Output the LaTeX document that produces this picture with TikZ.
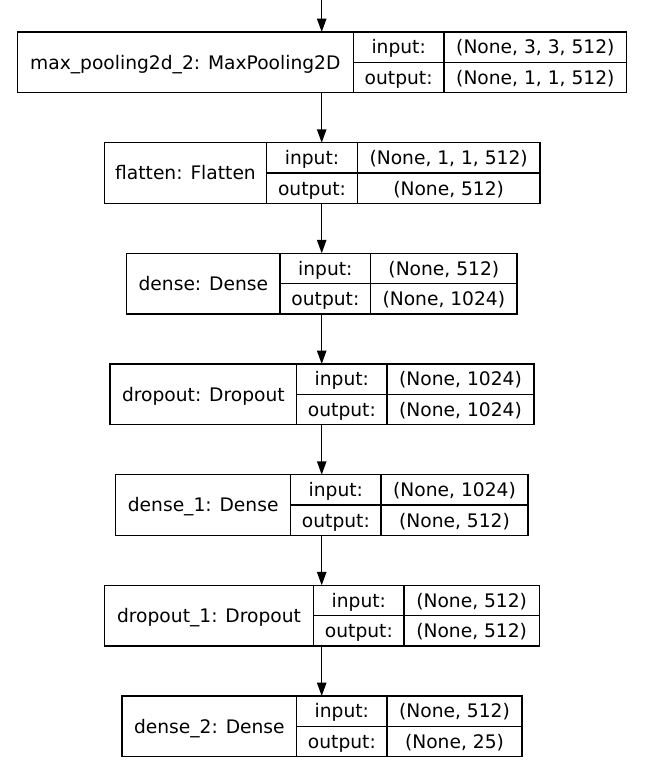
\documentclass[tikz,border=0pt]{standalone}
\usepackage{fontspec}
\setmainfont{DejaVu Sans}
\usetikzlibrary{arrows.meta}
\begin{document}
\begin{tikzpicture}[x=0.75pt, y=-0.75pt, line width=1pt, >={Triangle[length=10pt,width=7pt]},
    cell/.style={draw, inner sep=1pt, outer sep=0pt, anchor=north west,
        text height=10.2pt, text depth=0pt, font=\fontsize{14}{16}\selectfont},
    half/.style={cell, minimum height=22.76pt}]
    \useasboundingbox (0,0) rectangle (644,763);
    \coordinate (top) at (321.7,0);
    \foreach \yt/\xa/\xb/\xc/\xd/\lbl/\vin/\vout [count=\i] in {
        32/17.3/353.3/444/626.7/{max\_pooling2d\_2: MaxPooling2D}/{(None, 3, 3, 512)}/{(None, 1, 1, 512)},
        142.7/104.3/266.7/357.3/540/{flatten: Flatten}/{(None, 1, 1, 512)}/{(None, 512)},
        253.3/126.7/280/370.7/517/{dense: Dense}/{(None, 512)}/{(None, 1024)},
        364/110/296.7/387/534/{dropout: Dropout}/{(None, 1024)}/{(None, 1024)},
        474.7/115.7/290.7/381/528/{dense\_1: Dense}/{(None, 1024)}/{(None, 512)},
        585.3/104.3/313.7/404/539.3/{dropout\_1: Dropout}/{(None, 512)}/{(None, 512)},
        696/122/296.7/387/522/{dense\_2: Dense}/{(None, 512)}/{(None, 25)}}{
        \node[cell, minimum width={(\xb-\xa)*0.75pt}, minimum height=45.5pt] (n\i) at (\xa,\yt) {\lbl};
        \node[half, minimum width={(\xc-\xb)*0.75pt}] (i\i) at (n\i.north east) {input:};
        \node[half, minimum width={(\xd-\xc)*0.75pt}] (iv\i) at (i\i.north east) {\vin};
        \node[half, minimum width={(\xc-\xb)*0.75pt}] (o\i) at (i\i.south west) {output:};
        \node[half, minimum width={(\xd-\xc)*0.75pt}] (ov\i) at (o\i.north east) {\vout};
    }
    \draw[->] (top) -- (n1.north -| top);
    \foreach \i [evaluate=\i as \j using int(\i+1)] in {1,...,6}
        \draw[->] (n\i.south -| top) -- (n\j.north -| top);
\end{tikzpicture}
\end{document}
